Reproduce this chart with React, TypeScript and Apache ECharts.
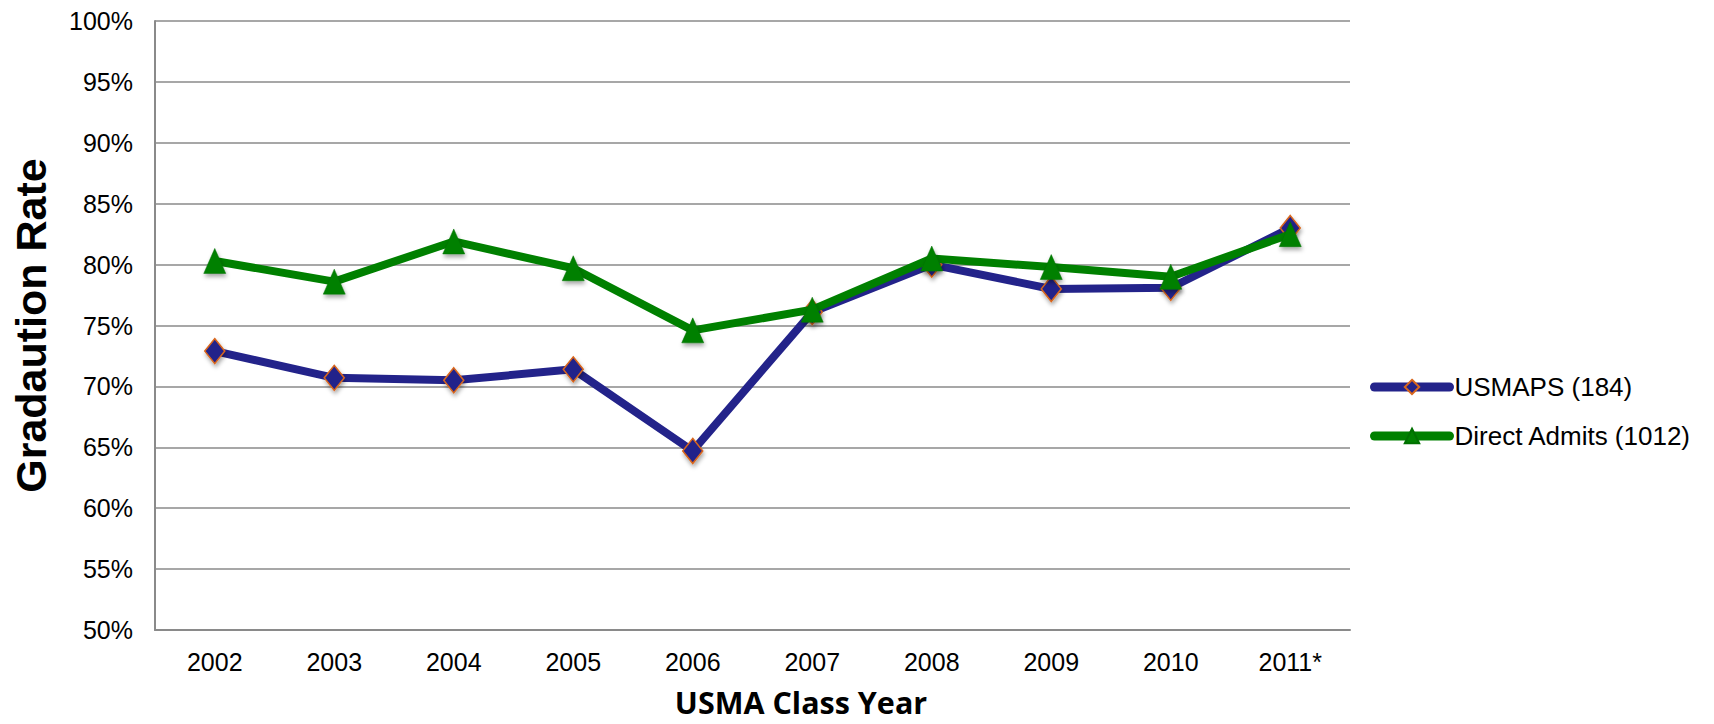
import React, { useEffect, useRef } from "react";
import * as echarts from "echarts";

const years = ["2002", "2003", "2004", "2005", "2006", "2007", "2008", "2009", "2010", "2011*"];
const usmaps = [72.9, 70.7, 70.5, 71.4, 64.7, 76.1, 80.0, 78.0, 78.1, 83.0];
const directAdmits = [80.3, 78.6, 81.9, 79.7, 74.6, 76.3, 80.5, 79.8, 79.0, 82.5];
const seriesNames = ["USMAPS (184)", "Direct Admits (1012)"];
const yTitle = "Gradaution Rate";
const xTitle = "USMA Class Year";

export default function App() {
  const ref = useRef<HTMLDivElement>(null);
  useEffect(() => {
    if (!ref.current) return;
    const chart = echarts.init(ref.current, null, { renderer: "svg" });
    const shadow = { shadowBlur: 4, shadowOffsetX: 1, shadowOffsetY: 3, shadowColor: "rgba(0,0,0,0.35)" };
    const font = "Liberation Sans, Arial, sans-serif";
    chart.setOption({
      animation: false,
      backgroundColor: "#ffffff",
      grid: { left: 155, right: 364, top: 21, bottom: 94, containLabel: false },
      legend: {
        orient: "vertical",
        left: 1365,
        top: 368,
        padding: 5,
        itemWidth: 75,
        itemHeight: 18,
        itemGap: 21,
        textStyle: { fontSize: 26, fontFamily: font, color: "#000", lineHeight: 28 },
        lineStyle: { width: 9, cap: "round" },
        data: seriesNames,
      },
      xAxis: {
        type: "category",
        data: years,
        boundaryGap: true,
        axisLine: { show: true, lineStyle: { color: "#8a8a8a", width: 2 } },
        axisTick: { show: false },
        axisLabel: { fontSize: 25, color: "#000", fontFamily: font, margin: 19 },
        splitLine: { show: false },
      },
      yAxis: {
        type: "value",
        min: 50,
        max: 100,
        interval: 5,
        name: yTitle,
        nameLocation: "middle",
        nameGap: 103,
        nameRotate: 90,
        nameTextStyle: { fontSize: 43, fontWeight: "bold", color: "#000", fontFamily: font },
        axisLine: { show: true, lineStyle: { color: "#8a8a8a", width: 2 } },
        axisTick: { show: false },
        axisLabel: { fontSize: 25, color: "#000", fontFamily: font, margin: 22, formatter: (v: number) => `${v}%` },
        splitLine: { show: true, lineStyle: { color: "#8a8a8a", width: 1.5 } },
      },
      graphic: [
        {
          type: "text",
          x: 801,
          y: 702,
          style: {
            text: xTitle,
            fontSize: 30.5,
            lineHeight: 31,
            fontWeight: "bold",
            fontFamily: "Open Sans, sans-serif",
            fill: "#000",
            align: "center",
            verticalAlign: "middle",
          },
        },
      ],
      series: [
        {
          name: seriesNames[0],
          type: "line",
          data: usmaps,
          symbol: "diamond",
          symbolSize: [20, 25],
          lineStyle: { color: "#23238a", width: 8 },
          itemStyle: { color: "#23238a", borderColor: "#d9661c", borderWidth: 1.5, ...shadow },
          z: 2,
        },
        {
          name: seriesNames[1],
          type: "line",
          data: directAdmits,
          symbol: "triangle",
          symbolSize: [22, 25],
          lineStyle: { color: "#008000", width: 8 },
          itemStyle: { color: "#008000", borderColor: "#007000", borderWidth: 0.5, ...shadow },
          z: 3,
        },
      ],
    });
    return () => chart.dispose();
  }, []);
  return <div ref={ref} style={{ position: "fixed", left: 0, top: 0, width: 1714, height: 724 }} />;
}
